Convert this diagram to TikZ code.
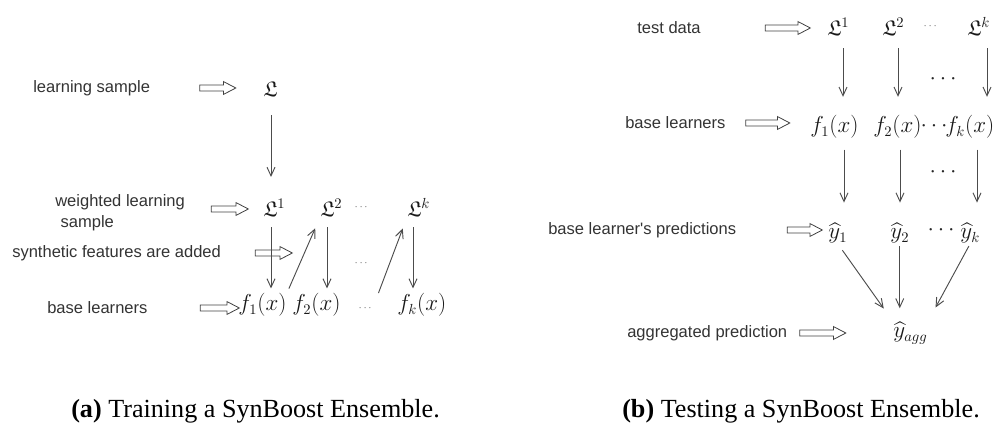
\documentclass[tikz,border=0pt]{standalone}
\usepackage{amsmath,amssymb}
\usepackage{fontspec}
\newfontfamily\labelfont{Liberation Sans}
\newfontfamily\capfont{Liberation Serif}
\usetikzlibrary{arrows.meta,shapes.arrows}

\begin{document}
\begin{tikzpicture}[x=0.75pt, y=-0.75pt,
    lbl/.style={anchor=west, inner sep=0pt, text=black!80, align=left,
      font=\fontsize{12.4}{15.75}\selectfont\labelfont},
    sym/.style={anchor=base west, inner sep=0pt, text=black!90, font=\fontsize{16}{19}\selectfont},
    smalldots/.style={inner sep=0pt, text=black!70, font=\fontsize{7}{8}\selectfont},
    bigdots/.style={inner sep=0pt, text=black!85, font=\fontsize{16}{19}\selectfont},
    fatarrow/.style={single arrow, draw=black!75, line width=0.6pt, inner sep=1.9pt,
      single arrow head extend=2.6pt, single arrow tip angle=55, minimum height=#1*0.75pt},
    arr/.style={draw=black!70, line width=0.7pt, -{Straight Barb[length=6.5pt,width=6pt]}},
    captext/.style={anchor=base west, inner sep=0pt, text=black, font=\fontsize{19.6}{23}\selectfont\capfont}]
  \useasboundingbox (0,0) rectangle (1005,423);

  \node[lbl] (ls) at (33,88) {learning sample};
  \node[fatarrow=36] (h1) at (215,88) {};
  \node[sym] (L0) at (263,97) {$\mathfrak{L}$};

  \node[lbl] (wls) at (55,213) {weighted learning\\\hspace*{4pt}sample};
  \node[fatarrow=37] (h2) at (227,209) {};
  \node[sym] (L1) at (263,217) {$\mathfrak{L}^1$};
  \node[sym] (L2) at (320,217) {$\mathfrak{L}^2$};
  \node[smalldots] (dL) at (362,207) {$\cdots$};
  \node[sym] (Lk) at (407,217) {$\mathfrak{L}^k$};

  \node[lbl] (sf) at (12,253) {synthetic features are added};
  \node[fatarrow=37] (h3) at (271,253) {};
  \node[smalldots] (dM) at (362,263) {$\cdots$};

  \node[lbl] (blA) at (47,308) {base learners};
  \node[fatarrow=39] (h4) at (217,308) {};
  \node[sym] (f1) at (238,311) {$f_1(x)$};
  \node[sym] (f2) at (292,311) {$f_2(x)$};
  \node[smalldots] (dF) at (366,308) {$\cdots$};
  \node[sym] (fk) at (397,311) {$f_k(x)$};

  \coordinate (a1) at (271,0);
  \coordinate (a2) at (327,0);
  \coordinate (ak) at (413,0);

  \draw[arr, shorten <=13.5pt, shorten >=16.5pt] (L0.south -| a1) -- (L1.north -| a1);
  \foreach \c/\s/\t in {a1/L1/f1, a2/L2/f2, ak/Lk/fk}
    \draw[arr, shorten <=7.5pt, shorten >=3.75pt] (\s.south -| \c) -- (\t.north -| \c);
  \draw[arr, shorten <=4pt, shorten >=9pt] (f1.north east) -- (L2.south west);
  \draw[arr, shorten <=10pt, shorten >=9pt] (dF.north east) -- (Lk.south west);

  \node[lbl] (td) at (637,28) {test data};
  \node[fatarrow=45] (h5) at (785,28) {};
  \node[sym] (R1) at (827,36) {$\mathfrak{L}^1$};
  \node[sym] (R2) at (882,36) {$\mathfrak{L}^2$};
  \node[smalldots] (dR) at (931,26) {$\cdots$};
  \node[sym] (Rk) at (967,36) {$\mathfrak{L}^k$};

  \node[lbl] (blB) at (625,123) {base learners};
  \node[fatarrow=44] (h6) at (765,123) {};
  \node[sym] (g1) at (810,133) {$f_1(x)$};
  \node[sym] (g2) at (873,133) {$f_2(x)$};
  \node[bigdots] (dG) at (936,126) {$\cdots$};
  \node[sym] (gk) at (945,133) {$f_k(x)$};

  \node[bigdots] (dU) at (945,79) {$\cdots$};
  \node[bigdots] (dV) at (945,172) {$\cdots$};

  \node[lbl] (bp) at (548,230) {base learner's predictions};
  \node[fatarrow=35] (h7) at (802,230) {};
  \node[sym] (y1) at (828,239) {$\widehat{y}_1$};
  \node[sym] (y2) at (890,239) {$\widehat{y}_2$};
  \node[bigdots] (dY) at (943,230) {$\cdots$};
  \node[sym] (yk) at (960,239) {$\widehat{y}_k$};

  \node[lbl] (ap) at (627,333) {aggregated prediction};
  \node[fatarrow=46] (h8) at (820,333) {};
  \node[sym] (yagg) at (893,338) {$\widehat{y}_{agg}$};

  \coordinate (b1) at (843,0);
  \coordinate (b2) at (898,0);
  \coordinate (bk) at (987,0);
  \coordinate (c1) at (844,0);
  \coordinate (c2) at (900,0);
  \coordinate (ck) at (977,0);

  \foreach \c/\s/\t in {b1/R1/g1, b2/R2/g2, bk/Rk/gk}
    \draw[arr, shorten <=9pt, shorten >=14pt] (\s.south -| \c) -- (\t.north -| \c);
  \foreach \c/\s/\t in {c1/g1/y1, c2/g2/y2, ck/gk/yk}
    \draw[arr, shorten <=8pt, shorten >=15pt] (\s.south -| \c) -- (\t.north -| \c);
  \draw[arr, shorten <=6pt, shorten >=12pt] (y1.south) -- (yagg.north west);
  \draw[arr, shorten <=2pt, shorten >=10pt] (y2.south) -- (y2.south |- yagg.north);
  \draw[arr, shorten <=2pt, shorten >=12pt] (yk.south) -- (yagg.north east);

  \node[captext] (capA) at (71,417) {\textbf{(a)} Training a SynBoost Ensemble.};
  \node[captext] (capB) at (622,417) {\textbf{(b)} Testing a SynBoost Ensemble.};
\end{tikzpicture}
\end{document}
